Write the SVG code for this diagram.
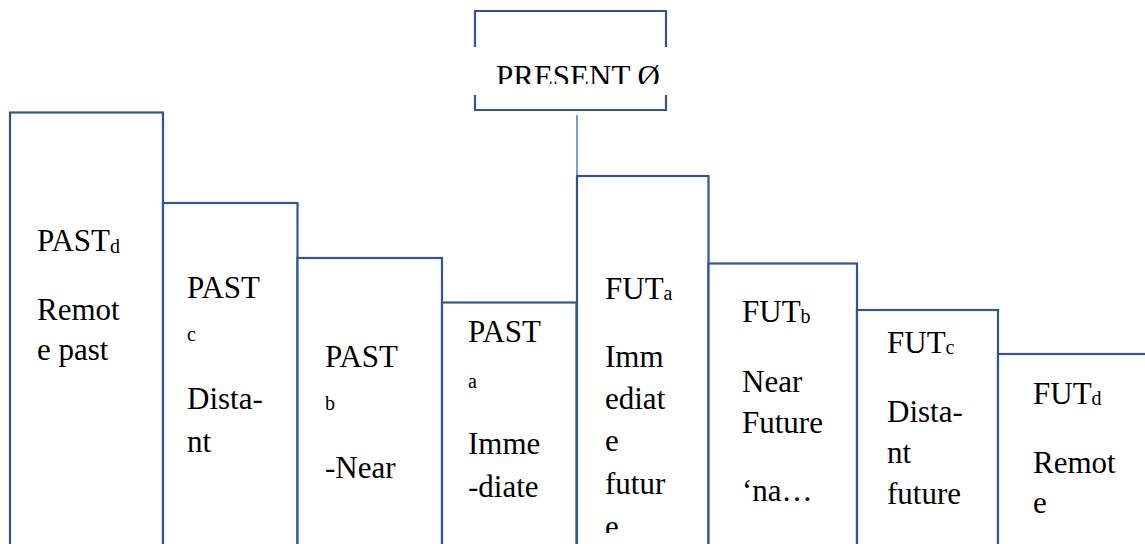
<svg xmlns="http://www.w3.org/2000/svg" width="1145" height="544" viewBox="0 0 1145 544">
<style>
.box{fill:#ffffff;stroke:#2F5597;stroke-width:2.2}
.edge{fill:none;stroke:#2F5597;stroke-width:2.2}
.conn{fill:none;stroke:#4472C4;stroke-width:1.4}
.mask{fill:#ffffff;stroke:none}
</style>
<rect width="1145" height="544" fill="#ffffff"/>
<g id="connectors">
<line class="conn" x1="577" y1="115" x2="577" y2="176"/>
</g>
<g id="past-d">
<rect class="box" x="10" y="112.5" width="153" height="460"/>
<text font-family="Liberation Serif" font-size="31" x="37" y="251">PAST<tspan font-size="20" dy="2">d</tspan></text>
<text font-family="Liberation Serif" font-size="31" x="37" y="320">Remot</text>
<text font-family="Liberation Serif" font-size="31" x="37" y="360">e past</text>
</g>
<g id="past-c">
<rect class="box" x="163" y="203" width="134.5" height="370"/>
<text font-family="Liberation Serif" font-size="31" x="187" y="298">PAST</text>
<text font-family="Liberation Serif" font-size="20" x="187" y="341">c</text>
<text font-family="Liberation Serif" font-size="31" x="187" y="409">Dista-</text>
<text font-family="Liberation Serif" font-size="31" x="187" y="452">nt</text>
</g>
<g id="past-b">
<rect class="box" x="297.5" y="258" width="144.5" height="320"/>
<text font-family="Liberation Serif" font-size="31" x="325" y="367">PAST</text>
<text font-family="Liberation Serif" font-size="20" x="325" y="410">b</text>
<text font-family="Liberation Serif" font-size="31" x="325" y="478">-Near</text>
</g>
<g id="past-a">
<rect class="box" x="442" y="302.5" width="134.5" height="280"/>
<text font-family="Liberation Serif" font-size="31" x="468" y="342">PAST</text>
<text font-family="Liberation Serif" font-size="20" x="468" y="388">a</text>
<text font-family="Liberation Serif" font-size="31" x="468" y="454">Imme</text>
<text font-family="Liberation Serif" font-size="31" x="468" y="497">-diate</text>
</g>
<g id="fut-a">
<rect class="box" x="577" y="176" width="131.5" height="400"/>
<text font-family="Liberation Serif" font-size="31" x="605" y="299">FUT<tspan font-size="20" dy="1">a</tspan></text>
<text font-family="Liberation Serif" font-size="31" x="605" y="367">Imm</text>
<text font-family="Liberation Serif" font-size="31" x="605" y="409">ediat</text>
<text font-family="Liberation Serif" font-size="31" x="605" y="451">e</text>
<text font-family="Liberation Serif" font-size="31" x="605" y="494">futur</text>
<text font-family="Liberation Serif" font-size="31" x="605" y="537">e</text>
<rect class="mask" x="580" y="533" width="126" height="12"/>
</g>
<g id="fut-b">
<rect class="box" x="708.5" y="263.5" width="148.5" height="320"/>
<text font-family="Liberation Serif" font-size="31" x="742" y="322">FUT<tspan font-size="20" dy="1">b</tspan></text>
<text font-family="Liberation Serif" font-size="31" x="742" y="392">Near</text>
<text font-family="Liberation Serif" font-size="31" x="742" y="433">Future</text>
<text font-family="Liberation Serif" font-size="31" x="742" y="501">‘na…</text>
</g>
<g id="fut-c">
<rect class="box" x="857" y="310" width="141" height="280"/>
<text font-family="Liberation Serif" font-size="31" x="887" y="353">FUT<tspan font-size="20" dy="1">c</tspan></text>
<text font-family="Liberation Serif" font-size="31" x="887" y="422">Dista-</text>
<text font-family="Liberation Serif" font-size="31" x="887" y="463">nt</text>
<text font-family="Liberation Serif" font-size="31" x="887" y="504">future</text>
</g>
<g id="fut-d">
<rect class="box" x="998" y="354" width="160" height="240"/>
<text font-family="Liberation Serif" font-size="31" x="1033" y="404">FUT<tspan font-size="20" dy="1">d</tspan></text>
<text font-family="Liberation Serif" font-size="31" x="1033" y="473">Remot</text>
<text font-family="Liberation Serif" font-size="31" x="1033" y="513">e</text>
</g>
<g id="present">
<text font-family="Liberation Serif" font-size="31" x="496" y="87">PRESENT Ø</text>
<rect class="mask" x="477" y="84" width="188" height="12"/>
<path class="edge" d="M475,47 V11 H666 V47 M475,95 V110 H666 V95"/>
</g>
</svg>
